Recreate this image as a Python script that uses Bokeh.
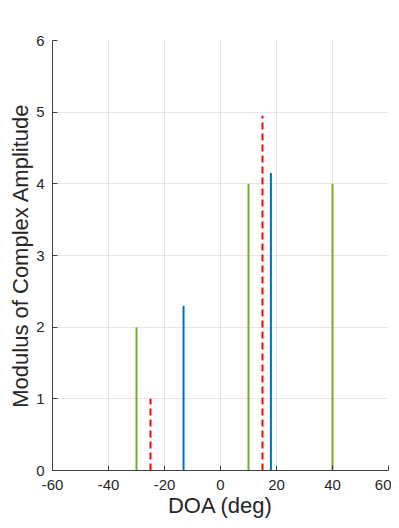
from bokeh.plotting import figure
from bokeh.models import ColumnDataSource, FixedTicker, Range1d
from bokeh.embed import file_html
from bokeh.resources import INLINE

# Data
green_doa = [-30, 10, 40]
green_amp = [2.0, 4.0, 4.0]
blue_doa = [-13.2, 18]
blue_amp = [2.3, 4.15]
red_doa = [-25, 15]
red_amp = [1.0, 4.95]
x_ticks = [-60, -40, -20, 0, 20, 40, 60]
y_ticks = [0, 1, 2, 3, 4, 5, 6]

p = figure(width=391, height=520, output_backend="svg", toolbar_location=None,
           x_range=Range1d(-60, 60), y_range=Range1d(0, 6),
           min_border_left=52, min_border_right=3, min_border_top=40, min_border_bottom=50)
p.outline_line_color = None

def stems(xs, ys, color, dash="solid"):
    src = ColumnDataSource(dict(x=xs, y0=[0] * len(xs), y1=ys))
    p.segment(x0="x", y0="y0", x1="x", y1="y1", source=src, line_color=color,
              line_width=2, line_dash=dash)

stems(green_doa, green_amp, "#77ac30")
stems(blue_doa, blue_amp, "#0072bd")
stems(red_doa, red_amp, "#ff0000", "7 4")

for ax in (p.xaxis, p.yaxis):
    ax.major_tick_in = 5
    ax.major_tick_out = 0
    ax.minor_tick_in = 0
    ax.minor_tick_out = 0
    ax.axis_line_color = "#404040"
    ax.major_tick_line_color = "#404040"
    ax.major_label_text_color = "#262626"
    ax.major_label_text_font = "Liberation Sans"
    ax.major_label_text_font_size = "15px"
    ax.axis_label_text_font = "Liberation Sans"
    ax.axis_label_text_font_size = "22px"
    ax.axis_label_text_font_style = "normal"
    ax.axis_label_text_color = "#262626"

p.xaxis.ticker = FixedTicker(ticks=x_ticks)
p.yaxis.ticker = FixedTicker(ticks=y_ticks)
p.xaxis.major_label_overrides = {t: str(t) for t in x_ticks}
p.yaxis.major_label_overrides = {t: str(t) for t in y_ticks}
p.xaxis.axis_label = "DOA (deg)"
p.yaxis.axis_label = "Modulus of Complex Amplitude"
p.xaxis.axis_label_standoff = 0
p.yaxis.axis_label_standoff = 0
p.xaxis.major_label_standoff = 9
p.yaxis.major_label_standoff = 8

p.xgrid.ticker = FixedTicker(ticks=x_ticks)
p.ygrid.ticker = FixedTicker(ticks=y_ticks)
p.grid.grid_line_color = "#e6e6e6"
p.grid.grid_line_width = 1

open("out.html", "w").write(file_html(p, INLINE))
